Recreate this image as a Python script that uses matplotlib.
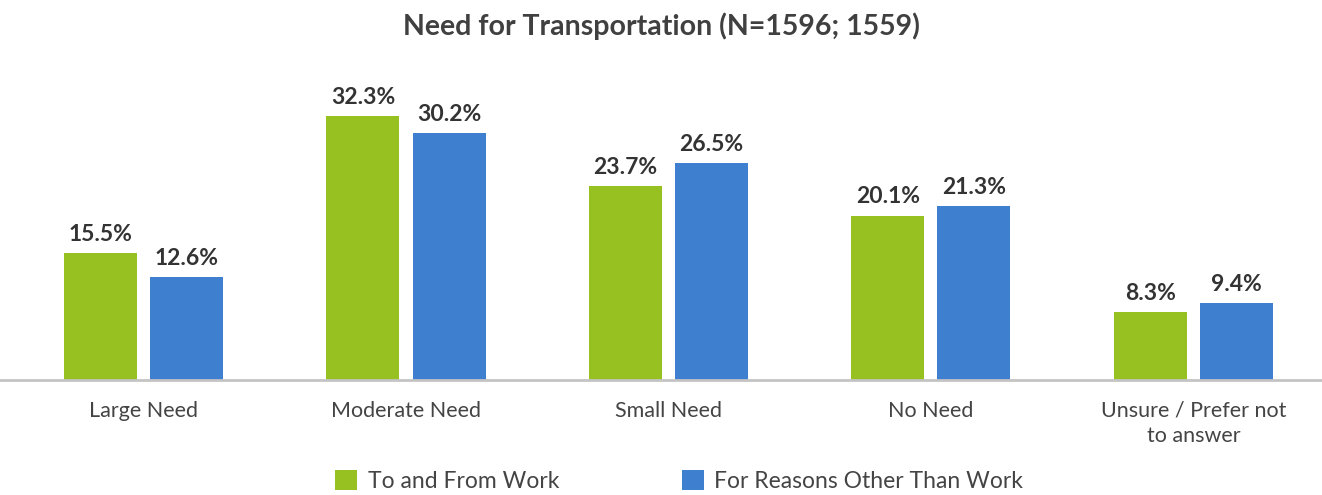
import numpy as np
import matplotlib.pyplot as plt

# data
categories = ["Large Need", "Moderate Need", "Small Need", "No Need",
              "Unsure / Prefer not\nto answer"]
work = [15.5, 32.3, 23.7, 20.1, 8.3]
other = [12.6, 30.2, 26.5, 21.3, 9.4]
series_names = ["To and From Work", "For Reasons Other Than Work"]

GREEN = "#96c120"
BLUE = "#3e80cf"

plt.rcParams['font.family'] = ['Lato', 'DejaVu Sans']

fig = plt.figure(figsize=(13.22, 4.95), dpi=100)
ax = fig.add_axes([0.0, 115 / 495, 1.0, 320 / 495])

x = np.arange(len(categories))
width = 0.278
offset = 0.164

bars_w = ax.bar(x - offset, work, width, color=GREEN, label=series_names[0])
bars_o = ax.bar(x + offset, other, width, color=BLUE, label=series_names[1])

# value labels above bars
for bars, vals in ((bars_w, work), (bars_o, other)):
    for b, v in zip(bars, vals):
        ax.annotate("{:.1f}%".format(v), (b.get_x() + b.get_width() / 2, v),
                    xytext=(0, 6), textcoords="offset points",
                    ha="center", va="bottom", fontsize=16.5, fontweight="bold",
                    color="#333333")

ax.set_xlim(-0.547, 4.49)
ax.set_ylim(0, 320 / 8.17)

ax.set_xticks(x)
ax.set_xticklabels(categories, fontsize=15.5, color="#444444", linespacing=1.3)
ax.tick_params(axis="x", length=0, pad=15)
ax.set_yticks([])

for side in ("top", "right", "left"):
    ax.spines[side].set_visible(False)
ax.spines["bottom"].set_color("#c4c4c4")
ax.spines["bottom"].set_linewidth(2)

fig.text(0.5, 1 - 26 / 495, "Need for Transportation (N=1596; 1559)",
         ha="center", va="center", fontsize=20.5, fontweight="bold",
         color="#404040")

fig.legend(loc="center", bbox_to_anchor=(679 / 1322, 1 - 481 / 495), ncol=2,
           frameon=False, fontsize=16.5, handlelength=0.96, handleheight=1.0,
           handletextpad=0.45, columnspacing=5.35, labelcolor="#444444",
           borderpad=0, borderaxespad=0)

fig.savefig("out.png", dpi=100)
